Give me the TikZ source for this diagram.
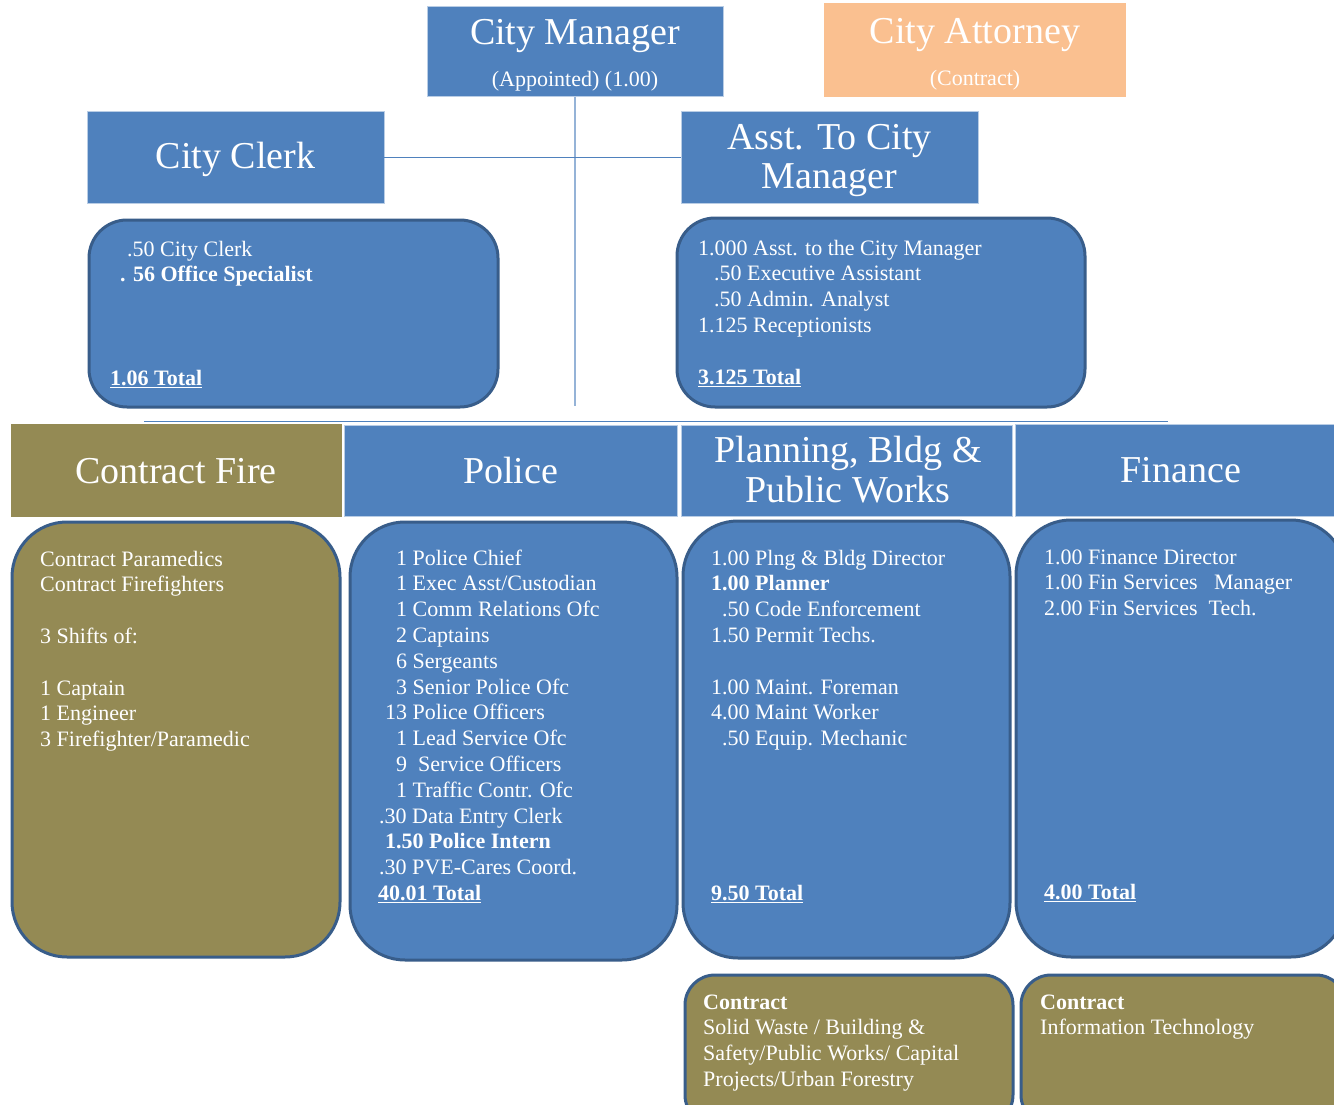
\documentclass[tikz,border=0pt]{standalone}
\usepackage{fontspec}
\setmainfont{Liberation Serif}
\definecolor{cblue}{HTML}{4F81BD}
\definecolor{cborder}{HTML}{385D8A}
\definecolor{colive}{HTML}{948A54}
\definecolor{corange}{HTML}{FAC090}
\definecolor{cline}{HTML}{95B3D7}
\definecolor{cedge}{HTML}{B9CDE5}
\newcommand{\bodylines}[1]{\parbox[t]{420pt}{\raggedright\fontsize{22}{25.8}\selectfont #1}}
\begin{document}
\begin{tikzpicture}[x=1pt,y=-1pt,
  hdr/.style={draw=cedge, line width=1pt, fill=cblue, anchor=north west, inner sep=0pt, outer sep=0pt},
  det/.style={draw=cborder, line width=3pt, fill=cblue, anchor=north west, inner sep=0pt, outer sep=0pt},
  htxt/.style={text=white, font=\fontsize{38}{39}\selectfont, anchor=base, inner sep=0pt},
  stxt/.style={text=white, font=\fontsize{22}{25.8}\selectfont, anchor=base, inner sep=0pt},
  btxt/.style={text=white, anchor=base west, inner sep=0pt},
]
\clip (0,0) rectangle (1334,1105);
\fill[white] (0,0) rectangle (1334,1105);

% top boxes
\node[hdr, minimum width=296pt, minimum height=90pt] (cm) at (427,7) {};
\node[htxt] (cmt) at (575,45) {City Manager};
\node[stxt] (cms) at (575,87) {(Appointed) (1.00)};

\node[hdr, draw=corange, fill=corange, minimum width=301pt, minimum height=93pt] (ca) at (824,4) {};
\node[htxt] (cat) at (975,44) {City Attorney};
\node[stxt] (cas) at (975,86) {(Contract)};

\node[hdr, minimum width=297pt, minimum height=91pt] (cc) at (87,112) {};
\node[htxt] (cct) at (235.5,169) {City Clerk};

\node[hdr, minimum width=297pt, minimum height=91pt] (ast) at (681,112) {};
\node[htxt] (ast1) at (829.5,150) {Asst. To City};
\node[htxt] (ast2) at (829.5,189) {Manager};

% connectors
\coordinate (vEnd) at (575,406);
\draw[cline, line width=1.5pt] (cm.south) -- (vEnd);
\draw[cblue, line width=1.2pt] (cc.east) -- (ast.west);
\coordinate (hL) at (144,421);
\coordinate (hR) at (1168,421);
\draw[cblue, line width=1pt] (hL) -- (hR);

% detail boxes upper
\node[det, rounded corners=38pt, minimum width=409pt, minimum height=187pt] (ccd) at (89,220) {};
\node[btxt] (ccdt) at (120,256) {\bodylines{\hspace*{7pt}.50 City Clerk\\\textbf{. 56 Office Specialist}}};
\node[btxt, font=\fontsize{22}{25.8}\selectfont] (ccdtot) at (110,385) {\underline{\textbf{1.06 Total}}};

\node[det, rounded corners=38pt, minimum width=408pt, minimum height=189pt] (astd) at (677,218) {};
\node[btxt] (astdt) at (698,255) {\bodylines{1.000 Asst. to the City Manager\\\hspace*{16pt}.50 Executive Assistant\\\hspace*{16pt}.50 Admin. Analyst\\1.125 Receptionists}};
\node[btxt, font=\fontsize{22}{25.8}\selectfont] (astdtot) at (698,384) {\underline{\textbf{3.125 Total}}};

% row headers
\node[hdr, draw=colive, fill=colive, minimum width=330pt, minimum height=92pt] (fire) at (11,424) {};
\node[htxt] (firet) at (176,483) {Contract Fire};
\node[hdr, minimum width=333pt, minimum height=91pt] (pol) at (344,425) {};
\node[htxt] (polt) at (510.5,483) {Police};
\node[hdr, minimum width=331pt, minimum height=91pt] (plan) at (681,425) {};
\node[htxt] (plant1) at (848,462) {Planning, Bldg \&};
\node[htxt] (plant2) at (848,502) {Public Works};
\node[hdr, minimum width=330pt, minimum height=92pt] (fin) at (1015,424) {};
\node[htxt] (fint) at (1181,482) {Finance};

% row detail boxes
\node[det, fill=colive, rounded corners=55pt, minimum width=328pt, minimum height=435pt] (fired) at (12,522) {};
\node[btxt] (firedt) at (40,566) {\bodylines{Contract Paramedics\\Contract Firefighters\\\mbox{}\\3 Shifts of:\\\mbox{}\\1 Captain\\1 Engineer\\3 Firefighter/Paramedic}};

\node[det, rounded corners=55pt, minimum width=327pt, minimum height=438pt] (pold) at (350,522) {};
\node[btxt] (poldt) at (378,565) {\bodylines{\hspace*{18pt}1 Police Chief\\\hspace*{18pt}1 Exec Asst/Custodian\\\hspace*{18pt}1 Comm Relations Ofc\\\hspace*{18pt}2 Captains\\\hspace*{18pt}6 Sergeants\\\hspace*{18pt}3 Senior Police Ofc\\\hspace*{7pt}13 Police Officers\\\hspace*{18pt}1 Lead Service Ofc\\\hspace*{18pt}9\ \ Service Officers\\\hspace*{18pt}1 Traffic Contr. Ofc\\\hspace*{1pt}.30 Data Entry Clerk\\\hspace*{7pt}\textbf{1.50 Police Intern}\\\hspace*{1pt}.30 PVE-Cares Coord.\\\underline{\textbf{40.01 Total}}}};

\node[det, rounded corners=55pt, minimum width=327pt, minimum height=437pt] (pland) at (683,521) {};
\node[btxt] (plandt) at (711,565) {\bodylines{1.00 Plng \& Bldg Director\\\textbf{1.00 Planner}\\\hspace*{11pt}.50 Code Enforcement\\1.50 Permit Techs.\\\mbox{}\\1.00 Maint. Foreman\\4.00 Maint Worker\\\hspace*{11pt}.50 Equip. Mechanic}};
\node[btxt, font=\fontsize{22}{25.8}\selectfont] (plandtot) at (711,900) {\underline{\textbf{9.50 Total}}};

\node[det, rounded corners=55pt, minimum width=330pt, minimum height=437pt] (find) at (1016,520) {};
\node[btxt] (findt) at (1044,564) {\bodylines{1.00 Finance Director\\1.00 Fin Services\ \ \ Manager\\2.00 Fin Services\ \ Tech.}};
\node[btxt, font=\fontsize{22}{25.8}\selectfont] (findtot) at (1044,899) {\underline{\textbf{4.00 Total}}};

% bottom contract boxes
\node[det, fill=colive, rounded corners=30pt, minimum width=328pt, minimum height=150pt] (cpw) at (685,975) {};
\node[btxt] (cpwt) at (703,1009) {\bodylines{\textbf{Contract}\\Solid Waste / Building \&\\Safety/Public Works/ Capital\\Projects/Urban Forestry}};
\node[det, fill=colive, rounded corners=30pt, minimum width=325pt, minimum height=150pt] (cit) at (1021,975) {};
\node[btxt] (citt) at (1040,1009) {\bodylines{\textbf{Contract}\\Information Technology}};
\end{tikzpicture}
\end{document}
